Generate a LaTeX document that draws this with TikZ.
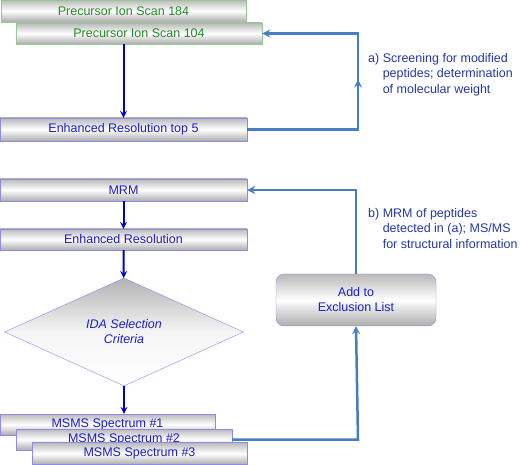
\documentclass[tikz,border=0pt]{standalone}
\usepackage{fontspec}
\setmainfont{Liberation Sans}
\usetikzlibrary{shapes.geometric}

\definecolor{scangreen}{RGB}{40,140,40}
\definecolor{scanedge}{RGB}{150,200,150}
\definecolor{boxblue}{RGB}{30,30,200}
\definecolor{boxedge}{RGB}{140,140,230}
\definecolor{flowblue}{RGB}{0,0,200}
\definecolor{loopblue}{RGB}{70,125,195}
\definecolor{noteblue}{RGB}{35,55,165}

\tikzset{
    stepbar/.style={draw=boxedge, rectangle, text=boxblue, top color=gray!55,
        bottom color=gray!65, middle color=white, inner sep=0pt,
        font=\fontsize{12.5}{15}\selectfont},
    scanbar/.style={stepbar, draw=scanedge, text=scangreen},
    flow/.style={draw=flowblue, line width=2pt, ->},
    feedback/.style={draw=loopblue, line width=2.5pt},
    note/.style={text=noteblue, anchor=north west, inner sep=0pt,
        font=\fontsize{12.5}{15.5}\selectfont}
}

\begin{document}
\begin{tikzpicture}[>=stealth, x=1pt, y=-1pt]
    \useasboundingbox (0,0) rectangle (520,465);

        % Define nodes of the screening part (top)
        \node[scanbar, minimum width=245, minimum height=22] (A1) at (123.5,11) {Precursor Ion Scan 184};
        \node[scanbar, minimum width=246, minimum height=21] (A2) at (139,33.5) {Precursor Ion Scan 104};
        \node[stepbar, minimum width=247, minimum height=23] (A3) at (123.5,129.5) {Enhanced Resolution top 5};

        % Define nodes of the MRM part (bottom)
        \node[stepbar, minimum width=247, minimum height=22] (B1) at (123.5,190) {MRM};
        \node[stepbar, minimum width=247, minimum height=21] (B2) at (123.5,239.5) {Enhanced Resolution};
        \node[diamond, draw=boxedge, text=boxblue, top color=gray!60, bottom color=white,
            middle color=gray!8, aspect=2.2, inner sep=0pt, minimum width=239, minimum height=108,
            align=center, font=\fontsize{12.5}{15}\selectfont\itshape] (B3) at (124,332) {IDA Selection\\Criteria};

        % Define the spectrum nodes
        \node[stepbar, minimum width=215, minimum height=21] (C1) at (107.5,424.5) {MSMS Spectrum \#1};
        \node[stepbar, minimum width=216, minimum height=21] (C2) at (124,439.5) {MSMS Spectrum \#2};
        \node[stepbar, minimum width=215, minimum height=22] (C3) at (139.5,453.5) {MSMS Spectrum \#3};

        % Define the exclusion node (right)
        \node[stepbar, rounded corners=8pt, minimum width=160, minimum height=52, align=center] (D1) at (356,300) {Add to\\Exclusion List};

        % Corner points of the feedback lines
        \coordinate (R1) at (358,129.5);
        \coordinate (R2) at (358,439.5);

        % Draw the main flow arrows
        \draw[flow] (A3.north |- A2.south) -- (A3.north);
        \draw[flow] (B1) -- (B2);
        \draw[flow] (B2) -- (B3);
        \draw[flow] (B3.south) -- (B3.south |- C1.north);

        % Draw the feedback lines
        \draw[feedback, ->] (A3.east) -- (R1) -- (R1 |- A2.east) -- (A2.east);
        \draw[feedback, ->] (R1) -- ++(0,-50);
        \draw[feedback, ->] (C2.east) -- (R2) -- (D1.south);
        \draw[feedback, ->] (D1.north) -- (D1.north |- B1.east) -- (B1.east);

        % Notes
        \node[note] (N1) at (368,51) {\begin{tabular}{@{}l@{ }l@{}}a) & Screening for modified\\ & peptides; determination\\ & of molecular weight\end{tabular}};
        \node[note] (N2) at (368,206) {\begin{tabular}{@{}l@{ }l@{}}b) & MRM of peptides\\ & detected in (a); MS/MS\\ & for structural information\end{tabular}};

\end{tikzpicture}
\end{document}
